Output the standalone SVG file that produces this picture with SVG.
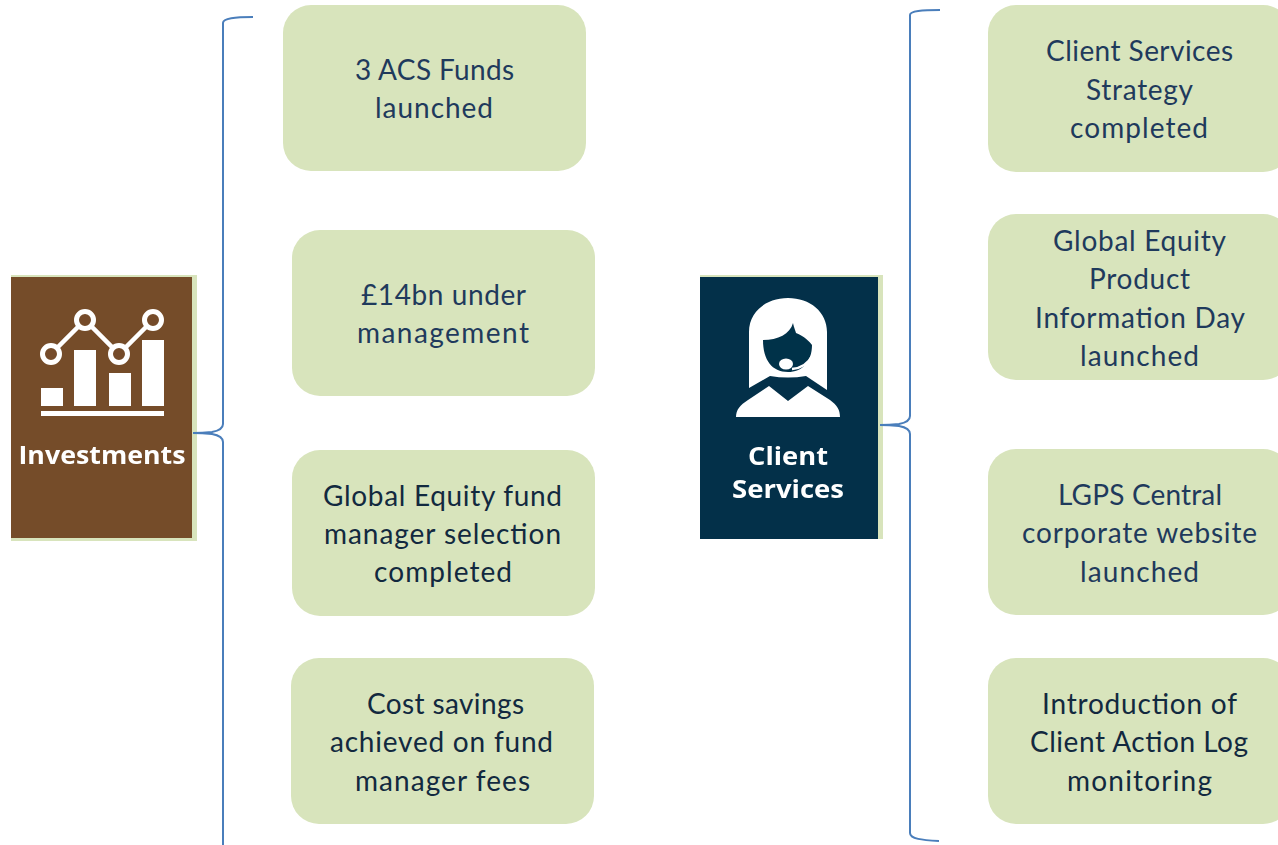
<svg xmlns="http://www.w3.org/2000/svg" width="1278" height="845" viewBox="0 0 1278 845">
<style>
.box{fill:#d8e4bc}
.t{font-family:"Lato","Liberation Sans",sans-serif;font-size:28px;text-anchor:middle;fill:#1f3a5c}
.d{fill:#12293f}
.b{fill:none;stroke:#4a7ebb;stroke-width:2}
.w{fill:#fff}
.l{font-family:"Open Sans","Liberation Sans",sans-serif;font-size:25px;font-weight:700;fill:#fff;text-anchor:middle}
.ic{fill:none;stroke:#fff;stroke-width:4.500}
</style>
<defs><filter id="soft" x="-5%" y="-5%" width="110%" height="110%"><feGaussianBlur stdDeviation="0.500"/></filter></defs>
<rect width="1278" height="845" fill="#fff"/>
<g id="investments">
<rect x="11" y="275" width="186" height="266" fill="#d8e4bc"/>
<rect x="11" y="277" width="181" height="261" fill="#754c29"/>
<g filter="url(#soft)">
<path d="M51 354L85 320L119 354L153 320" class="ic"/>
<g fill="#754c29" stroke="#fff" stroke-width="5">
<circle cx="51" cy="354" r="8.500"/><circle cx="85" cy="320" r="8.500"/><circle cx="119" cy="354" r="8.500"/><circle cx="153" cy="320" r="8.500"/>
</g>
<rect class="w" x="41" y="388" width="22" height="18"/>
<rect class="w" x="74" y="350" width="22" height="56"/>
<rect class="w" x="109" y="373" width="22" height="33"/>
<rect class="w" x="142" y="340" width="22" height="66"/>
<rect class="w" x="41" y="411" width="123" height="5"/>
<text class="l" x="102" y="464" textLength="167" lengthAdjust="spacingAndGlyphs">Investments</text>
</g>
</g>
<g id="client-services">
<rect x="700" y="275" width="183" height="264" fill="#d8e4bc"/>
<rect x="700" y="277" width="178" height="262" fill="#033049"/>
<g filter="url(#soft)">
<path class="w" d="M749 388V332C749 312 766 298 788 298C810 298 827 312 827 332V390L806 376Q788 379 770 376Z"/>
<path d="M763 340C778 340 790 334 793 323C794 328 796 332 796 333C804 336 810 342 812 345C812 362 802 372 788 372C772 372 763 360 763 340Z" fill="#033049"/>
<path class="w" d="M736 417C736 410 740 405 748 400L769 386L788 401L808 386L830 400C837 405 840 410 840 417Z"/>
<path d="M812 356C808 364 802 368 792 369" fill="none" stroke="#fff" stroke-width="2.500"/>
<ellipse class="w" cx="786" cy="364" rx="7" ry="5.500"/>
<text class="l" x="788" y="465" textLength="80" lengthAdjust="spacingAndGlyphs">Client</text>
<text class="l" x="788" y="498" textLength="112" lengthAdjust="spacingAndGlyphs">Services</text>
</g>
</g>
<g id="connectors">
<path class="b" d="M253 17C235 17 223 18 223 23V424Q223 430 212 432Q202 433 193 433Q202 433 212 434Q223 436 223 442V845"/>
<path class="b" d="M940 10C922 10 910 11 910 15V416Q910 422 899 424Q889 425 880 425Q889 425 899 426Q910 428 910 434V833C910 839 922 840 939 841"/>
</g>
<g id="n1"><rect class="box" x="283" y="5" width="303" height="166" rx="28"/><text class="t" x="434.500" y="80" textLength="159">3 ACS Funds</text><text class="t" x="434" y="118" textLength="118">launched</text></g>
<g id="n2"><rect class="box" x="292" y="230" width="303" height="166" rx="28"/><text class="t" x="443.500" y="305" textLength="165">£14bn under</text><text class="t" x="443" y="343" textLength="172">management</text></g>
<g id="n3"><rect class="box" x="292" y="450" width="303" height="166" rx="28"/><text class="t d" x="442.500" y="506" textLength="239">Global Equity fund</text><text class="t d" x="442.500" y="544" textLength="237">manager selection</text><text class="t d" x="443" y="582" textLength="138">completed</text></g>
<g id="n4"><rect class="box" x="291" y="658" width="303" height="166" rx="28"/><text class="t d" x="445.500" y="714" textLength="157">Cost savings</text><text class="t d" x="441.500" y="752" textLength="223">achieved on fund</text><text class="t d" x="442.500" y="791" textLength="175">manager fees</text></g>
<g id="n5"><rect class="box" x="988" y="5" width="303" height="167" rx="28"/><text class="t" x="1139.500" y="61" textLength="187">Client Services</text><text class="t" x="1139.500" y="100" textLength="107">Strategy</text><text class="t" x="1139" y="138" textLength="138">completed</text></g>
<g id="n6"><rect class="box" x="988" y="214" width="303" height="166" rx="28"/><text class="t" x="1139.500" y="251" textLength="173">Global Equity</text><text class="t" x="1139.500" y="289" textLength="101">Product</text><text class="t" x="1140" y="328" textLength="210">Information Day</text><text class="t" x="1139.500" y="366" textLength="119">launched</text></g>
<g id="n7"><rect class="box" x="988" y="449" width="303" height="166" rx="28"/><text class="t" x="1140" y="505" textLength="164">LGPS Central</text><text class="t" x="1139.500" y="543" textLength="235">corporate website</text><text class="t" x="1139.500" y="582" textLength="119">launched</text></g>
<g id="n8"><rect class="box" x="988" y="658" width="303" height="166" rx="28"/><text class="t d" x="1139.500" y="714" textLength="195">Introduction of</text><text class="t d" x="1139" y="752" textLength="218">Client Action Log</text><text class="t d" x="1139.500" y="791" textLength="145">monitoring</text></g>
</svg>
